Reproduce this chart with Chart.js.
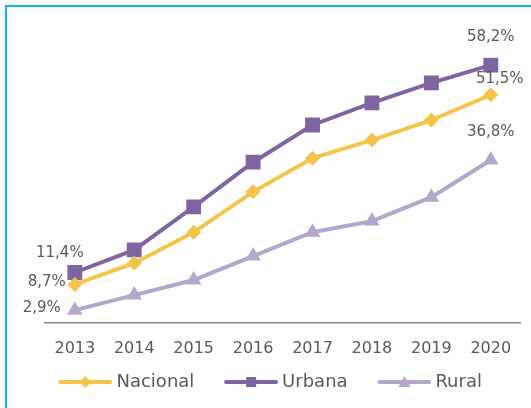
<!DOCTYPE html>
<html>
<head>
<meta charset="utf-8">
<script src="https://cdn.jsdelivr.net/npm/chart.js@4.4.1/dist/chart.umd.min.js"></script>
<style>
  html, body { margin: 0; padding: 0; background: #fff; }
  #wrap { position: relative; width: 531px; height: 408px; overflow: hidden; }
  #frame { position: absolute; left: 5px; top: 5px; width: 600px; height: 600px; border: 2px solid #12B5F0; }
  #chart { position: absolute; left: 0; top: 0; }
</style>
</head>
<body>
<div id="wrap">
  <div id="frame"></div>
  <canvas id="chart" width="531" height="408"></canvas>
</div>
<script>
// dados
const anos = ['2013', '2014', '2015', '2016', '2017', '2018', '2019', '2020'];
const nacional = [8.7, 13.5, 20.5, 29.6, 37.2, 41.3, 45.8, 51.5];
const urbana = [11.4, 16.5, 26.2, 36.3, 44.7, 49.7, 54.2, 58.2];
const rural = [2.9, 6.3, 9.7, 15.1, 20.5, 23.0, 28.4, 36.8];
const nomes = ['Nacional', 'Urbana', 'Rural'];

const cores = ['#F4C54B', '#8064A2', '#B4A7CB'];
const cinza = '#595959';
const fonte = '"DejaVu Sans", sans-serif';

// posição dos rótulos (primeiro e último ponto de cada série)
const posRotulos = [
    [{ align: 'right', dx: -9, dy: -2 }, { align: 'center', dx: 9, dy: -16 }],
    [{ align: 'center', dx: -15, dy: -19 }, { align: 'center', dx: 0, dy: -28 }],
    [{ align: 'right', dx: -14, dy: -2 }, { align: 'center', dx: 0, dy: -28 }]
];

const fmt = v => v.toFixed(1).replace('.', ',') + '%';

// ícone da legenda: linha com marcador, encostado à direita (a margem esquerda dá o espaço entre itens)
function iconeLegenda(cor, forma) {
    const c = document.createElement('canvas');
    c.width = 74; c.height = 16;
    const g = c.getContext('2d');
    const x0 = 20, meio = x0 + 27;
    g.strokeStyle = cor; g.lineWidth = 4; g.lineCap = 'round';
    g.beginPath(); g.moveTo(x0 + 2, 8); g.lineTo(x0 + 52, 8); g.stroke();
    g.fillStyle = cor;
    g.beginPath();
    if (forma === 'losango') { g.moveTo(meio, 2); g.lineTo(meio + 6, 8); g.lineTo(meio, 14); g.lineTo(meio - 6, 8); }
    else if (forma === 'quadrado') { g.rect(meio - 5, 3, 10, 10); }
    else { g.moveTo(meio, 2); g.lineTo(meio + 6, 13); g.lineTo(meio - 6, 13); }
    g.closePath(); g.fill();
    return c;
}
const icones = [
    iconeLegenda(cores[0], 'losango'),
    iconeLegenda(cores[1], 'quadrado'),
    iconeLegenda(cores[2], 'triangulo')
];

const rotulos = {
    id: 'rotulos',
    afterDatasetsDraw(chart) {
        const ctx = chart.ctx;
        ctx.save();
        ctx.font = '15px ' + fonte;
        ctx.fillStyle = cinza;
        ctx.textBaseline = 'middle';
        chart.data.datasets.forEach((ds, i) => {
            const pts = chart.getDatasetMeta(i).data;
            [0, pts.length - 1].forEach((k, j) => {
                const p = posRotulos[i][j];
                ctx.textAlign = p.align;
                ctx.fillText(fmt(ds.data[k]), pts[k].x + p.dx, pts[k].y + p.dy);
            });
        });
        ctx.restore();
    }
};

const serie = (i, dados, forma, raio) => ({
    label: nomes[i],
    data: dados,
    borderColor: cores[i],
    backgroundColor: cores[i],
    borderWidth: 4,
    pointStyle: forma,
    pointRadius: raio,
    pointHoverRadius: raio,
    pointBorderWidth: 0,
    tension: 0
});

new Chart(document.getElementById('chart'), {
    type: 'line',
    data: {
        labels: anos,
        datasets: [
            serie(0, nacional, 'rectRot', 7.5),
            serie(1, urbana, 'rect', 10.5),
            serie(2, rural, 'triangle', 9)
        ]
    },
    options: {
        responsive: false,
        animation: false,
        layout: { padding: { top: 57.2, left: 2.7, right: 8.3, bottom: 7 } },
        plugins: {
            tooltip: { enabled: false },
            legend: {
                position: 'bottom',
                labels: {
                    usePointStyle: true,
                    pointStyleWidth: 64,
                    padding: 14.8,
                    color: cinza,
                    font: { family: fonte, size: 18 },
                    generateLabels: chart => chart.data.datasets.map((ds, i) => ({
                        text: ds.label,
                        pointStyle: icones[i],
                        fontColor: cinza,
                        fillStyle: 'transparent',
                        strokeStyle: 'transparent',
                        lineWidth: 0,
                        hidden: false,
                        datasetIndex: i
                    }))
                }
            }
        },
        scales: {
            x: {
                offset: true,
                grid: { display: false, drawTicks: false },
                border: { display: true, color: '#878787', width: 1.5 },
                ticks: { color: cinza, font: { family: fonte, size: 16 }, padding: 16 },
                afterFit(s) { s.height = 35.2; }
            },
            y: {
                min: 0,
                max: 60,
                grid: { display: false, drawTicks: false },
                border: { display: false },
                ticks: { display: false },
                afterFit(s) { s.width = 42.4; }
            }
        }
    },
    plugins: [rotulos]
});
</script>
</body>
</html>
